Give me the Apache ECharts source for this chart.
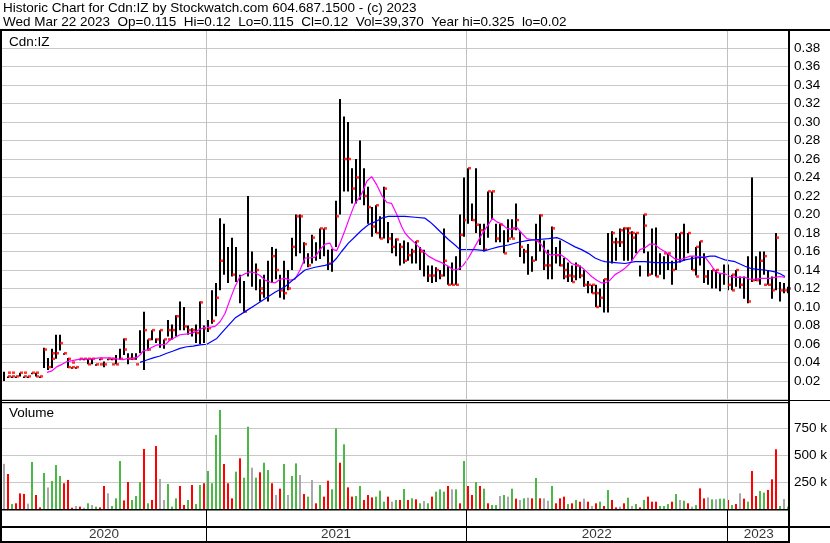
<!DOCTYPE html>
<html><head><meta charset="utf-8">
<script src="https://cdn.jsdelivr.net/npm/echarts/dist/echarts.min.js"></script>
<style>html,body{margin:0;padding:0;background:#fff}#c{width:830px;height:543px}</style>
</head><body><div id="c"></div><script>
// ---- data (one entry per bar slot, index 0..196) ----
const lows = [
.020,.025,.025,.025,.025,.025,.025,.029,.025,.025,
.034,.032,.034,.044,.053,.050,.034,.035,.035,.044,
.044,.038,.038,.038,.044,.035,.044,.044,.038,.043,
.048,.038,.043,.043,.050,.032,.053,.064,.061,.056,
.055,.068,.065,.068,.075,.075,.070,.068,.061,.060,
.061,.073,.082,.090,.118,.135,.126,.133,.127,.104,
.095,.133,.122,.118,.106,.110,.106,.126,.130,.110,
.108,.118,.140,.155,.158,.147,.143,.147,.150,.152,
.155,.140,.138,.165,.200,.225,.225,.212,.212,.216,
.210,.190,.176,.180,.174,.174,.169,.158,.155,.145,
.147,.150,.147,.147,.140,.133,.127,.126,.127,.130,
.133,.124,.124,.124,.140,.176,.190,.193,.180,.167,
.160,.175,.195,.170,.170,.158,.170,.175,.183,.154,
.147,.135,.138,.150,.160,.140,.130,.130,.147,.144,
.130,.127,.127,.129,.131,.122,.115,.115,.100,.100,
.094,.094,.147,.150,.165,.150,.150,.150,.158,.133,
.158,.133,.135,.133,.135,.130,.140,.124,.140,.148,
.150,.158,.140,.134,.145,.126,.124,.120,.120,.117,
.124,.118,.118,.122,.120,.109,.104,.127,.128,.124,
.135,.124,.109,.118,.106,.115,.115];
const highs = [
.030,.025,.025,.025,.029,.025,.025,.029,.029,.025,
.056,.045,.055,.070,.070,.050,.045,.035,.035,.044,
.044,.044,.044,.038,.044,.041,.044,.044,.048,.055,
.066,.050,.050,.050,.075,.095,.065,.075,.066,.075,
.065,.086,.081,.091,.106,.100,.080,.077,.081,.106,
.080,.086,.118,.126,.196,.190,.165,.175,.165,.135,
.128,.220,.160,.147,.130,.135,.150,.165,.163,.135,
.150,.140,.175,.200,.200,.170,.158,.178,.170,.185,
.185,.162,.163,.215,.325,.306,.300,.250,.260,.280,
.250,.230,.208,.210,.198,.230,.192,.180,.174,.169,
.172,.170,.163,.171,.165,.162,.145,.145,.143,.140,
.185,.144,.148,.155,.200,.240,.250,.212,.250,.190,
.190,.225,.225,.190,.190,.183,.195,.195,.212,.182,
.163,.168,.155,.190,.200,.172,.162,.187,.165,.172,
.153,.148,.145,.148,.145,.140,.128,.124,.124,.120,
.130,.180,.182,.175,.185,.186,.186,.182,.180,.145,
.200,.160,.185,.186,.158,.155,.158,.150,.180,.180,
.190,.180,.155,.165,.171,.158,.140,.140,.140,.137,
.146,.146,.135,.140,.133,.133,.155,.240,.155,.160,
.160,.140,.133,.180,.127,.126,.122];
// red close ticks [slot, price]
const closeMarks = [[1,.029],[1,.025],[2,.029],[2,.025],[3,.025],[4,.029],[5,.025],[5,.029],[6,.025],[7,.029],[8,.029],[8,.025],[9,.025],[10,.054],[11,.035],[12,.05],[12,.044],[13,.05],[14,.061],[15,.05],[16,.035],[16,.044],[17,.035],[17,.04],[18,.035],[19,.044],[20,.044],[21,.044],[21,.038],[22,.044],[23,.038],[24,.044],[24,.038],[25,.038],[26,.044],[27,.044],[27,.038],[28,.038],[29,.044],[30,.065],[30,.054],[31,.044],[32,.044],[33,.038],[35,.075],[36,.065],[36,.054],[37,.075],[38,.065],[39,.075],[40,.065],[41,.075],[41,.065],[42,.075],[43,.09],[45,.079],[46,.075],[47,.075],[48,.072],[49,.105],[50,.077],[51,.077],[52,.085],[53,.11],[54,.15],[57,.135],[60,.095],[63,.14],[64,.12],[64,.115],[67,.155],[68,.14],[69,.118],[70,.115],[71,.12],[72,.165],[73,.198],[74,.198],[75,.168],[76,.145],[77,.175],[79,.185],[80,.185],[81,.147],[83,.198],[85,.26],[86,.26],[87,.228],[88,.24],[90,.22],[91,.208],[92,.187],[93,.21],[93,.18],[94,.174],[95,.228],[96,.174],[97,.165],[98,.173],[99,.165],[100,.15],[101,.156],[102,.16],[103,.171],[104,.16],[106,.134],[107,.134],[108,.14],[109,.134],[110,.15],[111,.124],[112,.124],[113,.124],[114,.178],[115,.194],[116,.25],[117,.194],[118,.189],[119,.183],[120,.162],[121,.225],[122,.225],[123,.174],[124,.189],[125,.158],[126,.174],[127,.185],[127,.174],[128,.194],[129,.165],[130,.16],[132,.15],[133,.172],[134,.199],[135,.145],[136,.145],[137,.185],[138,.156],[139,.145],[140,.14],[140,.133],[141,.134],[142,.133],[142,.127],[143,.145],[144,.134],[145,.124],[146,.124],[147,.115],[147,.124],[148,.1],[148,.115],[149,.11],[150,.13],[152,.18],[152,.17],[153,.17],[154,.183],[154,.17],[155,.185],[156,.18],[156,.185],[157,.18],[157,.175],[158,.18],[160,.2],[160,.188],[161,.135],[163,.133],[165,.158],[166,.158],[167,.14],[168,.175],[169,.18],[171,.18],[172,.14],[173,.165],[173,.133],[174,.171],[175,.133],[177,.14],[178,.14],[181,.124],[182,.135],[182,.118],[183,.14],[184,.124],[186,.106],[187,.129],[188,.129],[189,.15],[190,.155],[190,.124],[191,.124],[192,.118],[193,.175],[194,.118],[195,.118],[196,.12]];
// moving averages [slot, price]
const maShort = [[10.75,.0293],[12,.031],[13.25,.0355],[14.5,.038],[15.75,.041],[17,.042],[19,.0437],[21.5,.044],[24,.045],[26.5,.045],[28.25,.044],[29.75,.043],[31,.0445],[32.25,.0445],[33.25,.0455],[34,.048],[34.75,.0524],[36,.054],[37.25,.057],[38.25,.059],[39.5,.059],[40.5,.060],[41.5,.0643],[42.75,.067],[44,.070],[45.75,.071],[47.25,.072],[49,.076],[50.25,.078],[51.5,.078],[52.75,.079],[54,.084],[55.25,.093],[56.5,.108],[57.75,.122],[59,.133],[60.25,.136],[61.5,.138],[62.75,.137],[64,.134],[65.25,.129],[66.5,.127],[67.75,.126],[69,.130],[70.25,.131],[71.5,.129],[72.75,.130],[74,.140],[75.25,.153],[76.5,.153],[77.75,.154],[79,.162],[80.25,.168],[81.5,.169],[82.3,.162],[83.2,.161],[84,.169],[85.25,.183],[86.5,.198],[87.75,.212],[89,.219],[89.8,.226],[90.7,.236],[91.9,.241],[93.2,.232],[94.4,.221],[95.7,.213],[96.9,.212],[98.2,.200],[99.4,.187],[100.25,.180],[101.5,.174],[102.75,.169],[104.4,.162],[106.1,.155],[107.75,.151],[109.4,.148],[111.1,.144],[112.3,.140],[113.6,.141],[114.8,.145],[116.1,.153],[117.3,.162],[118.6,.172],[119.8,.181],[121.1,.189],[122.1,.196],[123.2,.192],[124.4,.190],[125.7,.185],[126.9,.184],[128.2,.186],[129.4,.180],[130.7,.174],[131.9,.173],[133.2,.172],[134.4,.167],[135.7,.158],[136.9,.156],[138.2,.157],[139.4,.156],[140.7,.152],[141.9,.147],[143.2,.145],[144.4,.143],[145.7,.138],[146.9,.133],[148.2,.129],[149.4,.126],[150.25,.126],[151.5,.129],[152.75,.135],[154,.138],[155.25,.142],[156.5,.147],[157.75,.155],[159,.162],[160.25,.164],[161.5,.168],[162.6,.168],[164,.163],[165.25,.160],[166.5,.156],[167.75,.152],[169,.151],[170.25,.153],[171.5,.155],[172.75,.155],[174,.154],[175.25,.154],[176.5,.147],[177.75,.139],[179,.136],[180.25,.136],[181.5,.133],[182.75,.132],[184,.132],[185.25,.132],[186.5,.130],[187.75,.130],[189,.131],[190.25,.131],[191.5,.131],[192.75,.132],[194,.133],[195.25,.132]];
const maLong = [[34,.0402],[35.7,.0427],[37.3,.045],[39,.047],[40.7,.050],[42.3,.0524],[44,.0553],[45.7,.057],[47.3,.0578],[49,.059],[50.7,.0597],[53.2,.066],[55.25,.076],[57.75,.088],[60.25,.095],[62.75,.102],[65.25,.109],[67.75,.116],[70.25,.122],[72.75,.131],[75.25,.140],[77.75,.143],[80.25,.145],[81.9,.147],[83.2,.153],[84.4,.160],[86.1,.169],[87.75,.176],[89.4,.183],[91.1,.189],[92.75,.192],[94.4,.196],[96.1,.198],[97.75,.198],[100.25,.198],[102.75,.197],[105.25,.196],[106.5,.192],[107.75,.187],[109.4,.180],[111.1,.173],[112.75,.167],[114,.162],[115.25,.162],[117.75,.162],[120.25,.161],[121.9,.163],[123.6,.165],[126.1,.167],[128.6,.170],[131.1,.172],[133.6,.173],[136.1,.174],[138.2,.175],[139.4,.173],[141.1,.169],[142.75,.165],[144.4,.162],[146.1,.158],[147.75,.153],[149.4,.150],[150.25,.149],[152.75,.148],[155.25,.147],[157.75,.149],[160.25,.149],[162.75,.148],[165.25,.148],[167.75,.148],[169,.149],[170.25,.151],[172.75,.153],[175.25,.154],[176.5,.155],[177.75,.155],[179,.153],[180.25,.151],[182.75,.149],[185.25,.144],[186.5,.142],[187.75,.141],[190.25,.140],[192.75,.138],[194,.136],[195.25,.133]];
// volume in thousands, and direction (g up, r down, n unchanged)
const volumes = [
420,325,46,53,145,140,50,437,130,15,
335,200,260,409,307,239,270,12,28,22,
12,53,37,22,15,214,146,28,99,446,
80,251,84,121,251,558,53,84,585,279,
84,232,22,99,214,37,84,223,46,223,
239,353,239,688,920,418,239,99,347,471,
291,765,384,291,341,430,362,239,130,189,
418,130,307,424,316,139,115,270,53,223,
115,263,183,750,430,601,201,115,121,214,
84,130,108,115,170,68,115,68,84,84,
186,84,99,90,53,74,53,115,161,183,
161,214,183,183,53,446,214,130,251,214,
189,53,37,37,121,130,115,189,96,84,
99,105,99,288,99,99,77,214,53,99,
115,46,53,84,68,96,68,28,53,68,
28,177,84,15,22,53,105,28,46,15,
84,115,68,68,28,28,46,68,139,84,
77,53,22,37,192,99,108,90,90,96,
96,84,37,46,146,96,68,353,121,167,
152,177,276,555,28,93,22];
const volDir = ("nrgrrrngrr"+"gngggrrrnr"+"ngngrrnggg"+"rrgggrgrrn"+"ngggrrgrgg"+"rggggrrrgr"+"ggngrggrnr"+"gnggnrgnrg"+"rrggrgrrgg"+"rrrgggrngr"+"grgrgngrgg"+"grngrgrrgr"+"grggngngrn"+"gnrgrnngrr"+"rgrgrnrnrg"+"rgrrnrgngr"+"grrrgggrgn"+"grngrrngng"+"grgrnrgrrg"+"grrrgng").split('');
const years = ['2020','2021','2022','2023'];
const yearStarts = [50.5, 115.5, 180.9]; // slot where 2021, 2022, 2023 begin
const titleLine1 = 'Historic Chart for Cdn:IZ by Stockwatch.com 604.687.1500 - (c) 2023';
const titleLine2 = 'Wed Mar 22 2023  Op=0.115  Hi=0.12  Lo=0.115  Cl=0.12  Vol=39,370  Year hi=0.325  lo=0.02';

// ---- chart ----
const FONT = "'Liberation Sans', Arial, sans-serif";
const FS = 13.5;
const XMIN = -0.5, XMAX = lows.length - 0.5;
const dirColor = {g:'#4cb848', r:'#ff0000', n:'#a8a8a8'};
const edges = [XMIN].concat(yearStarts, [XMAX]);
const yearCenters = years.map((y,k)=>[(edges[k]+edges[k+1])/2, 0.5, y]);

function xa(i){return {gridIndex:i,type:'value',min:XMIN,max:XMAX,show:false};}
function yearLines(color, xi, yi){
  return {type:'line', xAxisIndex:xi, yAxisIndex:yi, data:[], z:1, silent:true,
    markLine:{silent:true, symbol:['none','none'], label:{show:false}, animation:false,
      lineStyle:{color:color, width:1, type:'solid'},
      data: yearStarts.map(v=>({xAxis:v}))}};
}
const txt = {fontFamily:FONT, fontSize:FS, fontWeight:'normal', color:'#000'};

const chart = echarts.init(document.getElementById('c'), null, {renderer:'canvas'});
chart.setOption({
  animation:false,
  backgroundColor:'#fff',
  title:[
    {text:titleLine1, left:3, top:1, padding:0, textStyle:txt},
    {text:titleLine2, left:3, top:15, padding:0, textStyle:txt},
    {text:'Cdn:IZ', left:9, top:35, padding:0, textStyle:txt},
    {text:'Volume', left:9, top:406, padding:0, textStyle:txt}
  ],
  grid:[
    {left:2, top:29.5, width:788, height:370},
    {left:2, top:403, width:788, height:106},
    {left:2, top:510, width:788, height:17},
    {left:2, top:527, width:788, height:15}
  ],
  xAxis:[xa(0),xa(1),xa(2),xa(3)],
  yAxis:[
    {gridIndex:0, type:'value', min:0, max:0.4, interval:0.02, position:'right',
      axisLine:{show:false}, axisTick:{show:false},
      axisLabel:{margin:4, showMinLabel:false, showMaxLabel:false, formatter:v=>v.toFixed(2), ...txt},
      splitLine:{lineStyle:{color:'#c8c8c8', width:1}}},
    {gridIndex:1, type:'value', min:0, max:985, interval:250, position:'right',
      axisLine:{show:false}, axisTick:{show:false},
      axisLabel:{margin:4, showMinLabel:false, showMaxLabel:false, formatter:v=>(v%250===0? v+' k':''), ...txt},
      splitLine:{lineStyle:{color:'#c8c8c8', width:1}}},
    {gridIndex:2, type:'value', min:0, max:1, show:false},
    {gridIndex:3, type:'value', min:0, max:1, show:false}
  ],
  series:[
    yearLines('#c0c0c0',0,0),
    yearLines('#c0c0c0',1,1),
    yearLines('#000',2,2),
    yearLines('#000',3,3),
    {type:'custom', xAxisIndex:0, yAxisIndex:0, z:2,
      data: lows.map((lo,i)=>[i, lo, highs[i]]),
      renderItem:function(params, api){
        const a = api.coord([api.value(0), api.value(2)]);
        const b = api.coord([api.value(0), api.value(1)]);
        return {type:'rect', shape:{x:Math.round(a[0])-1, y:a[1], width:2, height:Math.max(b[1]-a[1],1.5)}, style:{fill:'#000'}};
      }},
    {type:'scatter', xAxisIndex:0, yAxisIndex:0, z:3, data:closeMarks,
      symbol:'rect', symbolSize:[3,2.5], symbolOffset:[1.5,0], itemStyle:{color:'#ff0000'}},
    {type:'line', xAxisIndex:0, yAxisIndex:0, z:4, data:maShort, symbol:'none',
      lineStyle:{color:'#ff00ff', width:1.2}},
    {type:'line', xAxisIndex:0, yAxisIndex:0, z:4, data:maLong, symbol:'none',
      lineStyle:{color:'#0000ff', width:1.2}},
    {type:'bar', xAxisIndex:1, yAxisIndex:1, z:2, barWidth:2,
      data: volumes.map((v,i)=>({value:[i,v], itemStyle:{color:dirColor[volDir[i]]}}))},
    {type:'scatter', xAxisIndex:3, yAxisIndex:3, z:3, data:yearCenters, symbolSize:1,
      itemStyle:{color:'rgba(0,0,0,0)'},
      label:{show:true, position:'inside', formatter:p=>p.value[2], ...txt}}
  ],
  graphic:[
    {type:'rect', z:100, shape:{x:0,y:29,width:830,height:2}, style:{fill:'#000'}},
    {type:'rect', z:100, shape:{x:0,y:29,width:2,height:514}, style:{fill:'#000'}},
    {type:'rect', z:100, shape:{x:788,y:29,width:2,height:514}, style:{fill:'#000'}},
    {type:'rect', z:100, shape:{x:0,y:400,width:830,height:1}, style:{fill:'#000'}},
    {type:'rect', z:100, shape:{x:0,y:402,width:790,height:1}, style:{fill:'#000'}},
    {type:'rect', z:100, shape:{x:0,y:509,width:790,height:1.5}, style:{fill:'#000'}},
    {type:'rect', z:100, shape:{x:0,y:526,width:830,height:2}, style:{fill:'#000'}},
    {type:'rect', z:100, shape:{x:0,y:541,width:790,height:2}, style:{fill:'#000'}}
  ]
});
</script></body></html>
